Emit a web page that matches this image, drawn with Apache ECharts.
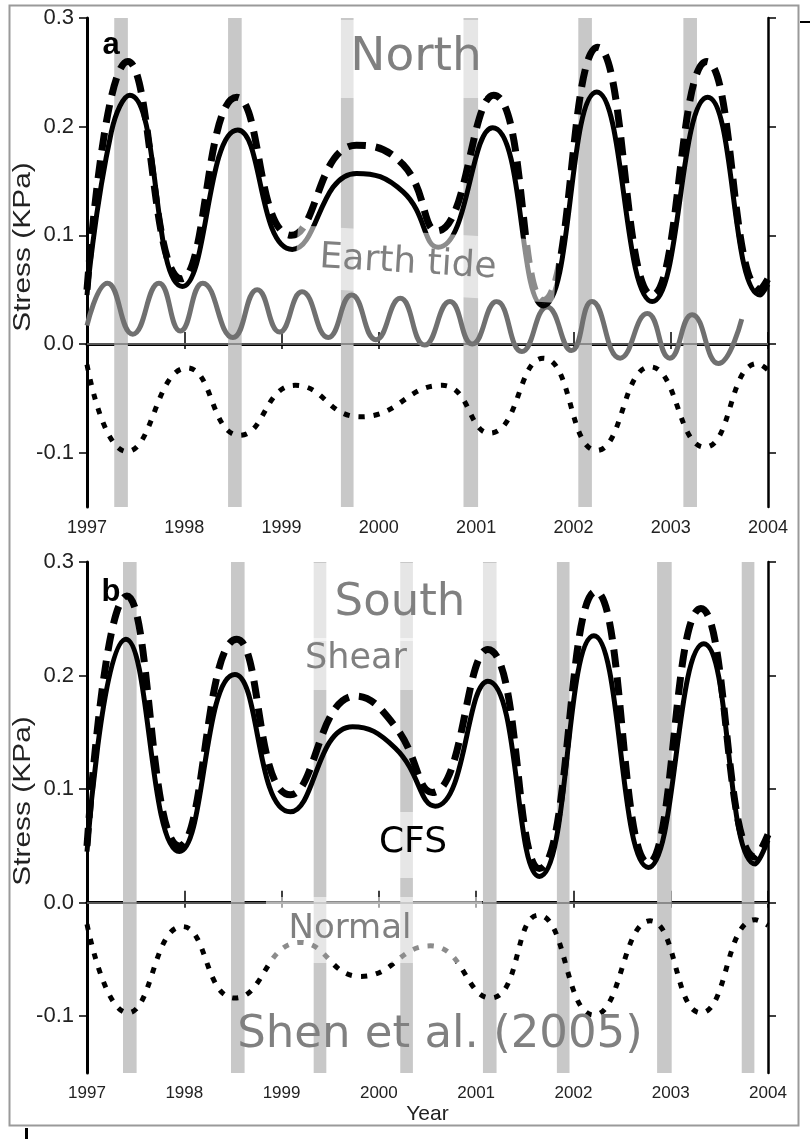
<!DOCTYPE html>
<html><head><meta charset="utf-8">
<script src="https://cdn.jsdelivr.net/npm/echarts@6/dist/echarts.min.js"></script>
<style>html,body{margin:0;padding:0;background:#fff}#c{width:810px;height:1139px}</style>
</head><body><div id="c"></div>
<script>
// ---------- tick labels ----------
const xTickLabels = ['1997','1998','1999','2000','2001','2002','2003','2004'];
const yTickValues = [-0.1, 0, 0.1, 0.2, 0.3];

// ---------- panel a (North) ----------
const aCfs = [[1997.00,0.045],[1997.25,0.195],[1997.44,0.229],[1997.98,0.053],[1998.55,0.197],[1999.11,0.087],
  [1999.77,0.157],[2000.25,0.140],[2000.61,0.089],[2001.17,0.199],[2001.69,0.035],
  [2002.24,0.232],[2002.81,0.039],[2003.38,0.227],[2003.92,0.045],[2004.00,0.055]];
const aShear = [[1997.00,0.050],[1997.42,0.260],[1997.97,0.060],[1998.54,0.227],[1999.10,0.100],
  [1999.77,0.183],[2000.25,0.165],[2000.60,0.104],[2001.18,0.229],[2001.69,0.040],
  [2002.25,0.273],[2002.81,0.045],[2003.37,0.260],[2003.92,0.050],[2004.00,0.060]];
const aNormal = [[1997.00,-0.019],[1997.41,-0.099],[1998.03,-0.022],[1998.57,-0.084],[1999.14,-0.038],
  [1999.81,-0.067],[2000.65,-0.038],[2001.14,-0.082],[2001.69,-0.013],[2002.24,-0.098],[2002.79,-0.021],
  [2003.35,-0.095],[2003.89,-0.018],[2004.00,-0.024]];
const aTide = [[1997.00,0.017],[1997.21,0.056],[1997.47,0.009],[1997.74,0.056],[1997.96,0.012],[1998.19,0.056],
  [1998.50,0.006],[1998.75,0.050],[1998.98,0.011],[1999.21,0.048],[1999.48,0.006],[1999.72,0.045],
  [1999.97,0.004],[2000.22,0.042],[2000.47,-0.001],[2000.73,0.039],[2000.96,0.000],[2001.21,0.039],
  [2001.47,-0.007],[2001.73,0.034],[2001.98,-0.006],[2002.19,0.039],[2002.48,-0.013],[2002.76,0.028],
  [2002.99,-0.013],[2003.22,0.027],[2003.49,-0.018],[2003.73,0.023]];
const aBands = [[1997.28,1997.42],[1998.45,1998.59],[1999.61,1999.74],[2000.87,2001.02],[2002.05,2002.19],[2003.13,2003.27]];

// ---------- panel b (South) ----------
const bCfs = [[1997.00,0.045],[1997.40,0.232],[1997.95,0.045],[1998.52,0.201],[1999.09,0.080],[1999.73,0.155],
  [2000.17,0.136],[2000.58,0.085],[2001.12,0.195],[2001.65,0.023],[2002.21,0.235],
  [2002.77,0.031],[2003.34,0.228],[2003.87,0.034],[2004.00,0.055]];
const bShear = [[1997.00,0.050],[1997.41,0.270],[1997.95,0.050],[1998.54,0.232],[1999.09,0.095],[1999.76,0.182],
  [2000.17,0.155],[2000.55,0.097],[2001.12,0.223],[2001.65,0.030],[2002.23,0.274],
  [2002.77,0.035],[2003.31,0.259],[2003.87,0.040],[2004.00,0.060]];
const bNormal = [[1997.00,-0.019],[1997.42,-0.097],[1997.98,-0.021],[1998.52,-0.084],[1999.19,-0.035],
  [1999.81,-0.065],[2000.53,-0.038],[2001.15,-0.084],[2001.64,-0.011],[2002.21,-0.099],[2002.79,-0.016],
  [2003.31,-0.097],[2003.87,-0.015],[2004.00,-0.020]];
const bBands = [[1997.37,1997.51],[1998.48,1998.62],[1999.33,1999.46],[2000.22,2000.35],[2001.07,2001.21],
  [2001.83,2001.96],[2002.86,2003.01],[2003.73,2003.86]];

const chart = echarts.init(document.getElementById('c'), null, {renderer:'canvas'});
const FONT = '"Liberation Sans", Arial, sans-serif';
const NOTE = '"DejaVu Sans", sans-serif';
const GRAY = '#808080';

function xAxes(gi, labelSize, withName) {
  return [
    { gridIndex: gi, type:'value', min:1997, max:2004, interval:1, position:'bottom',
      axisLine:{lineStyle:{color:'#000', width:3}},
      axisTick:{length:5, lineStyle:{color:'#000', width:1.5}},
      axisLabel:{fontSize:labelSize, color:'#222', fontFamily:FONT, margin:12,
        formatter: v => xTickLabels[Math.round(v) - 1997]},
      splitLine:{show:false},
      name: withName ? 'Year' : '', nameLocation:'middle', nameGap:31,
      nameTextStyle:{fontSize:21, color:'#222', fontFamily:FONT} },
    { gridIndex: gi, type:'value', min:1997, max:2004, interval:1, position:'top',
      axisLine:{lineStyle:{color:'#000', width:2.5}},
      axisTick:{length:12, lineStyle:{color:'#000', width:1.5}},
      axisLabel:{show:false}, splitLine:{show:false} }
  ];
}
function yAxes(gi) {
  return [
    { gridIndex: gi, type:'value', min:-0.15, max:0.3, position:'left',
      axisLine:{lineStyle:{color:'#000', width:3}},
      axisTick:{length:8, customValues: yTickValues, lineStyle:{color:'#000', width:1.5}},
      axisLabel:{customValues: yTickValues, fontSize:22, color:'#222', fontFamily:FONT, margin:13,
        formatter: v => v.toFixed(1)},
      splitLine:{show:false} },
    { gridIndex: gi, type:'value', min:-0.15, max:0.3, position:'right',
      axisLine:{lineStyle:{color:'#000', width:2.5}},
      axisTick:{length:8, customValues: yTickValues, lineStyle:{color:'#000', width:1.5}},
      axisLabel:{show:false}, splitLine:{show:false} }
  ];
}
function panelSeries(xi, yi, cfs, shear, normal, tide, bands) {
  const s = [];
  s.push({ type:'line', xAxisIndex:xi, yAxisIndex:yi, data:[], z:1, silent:true,
    markArea:{ silent:true, itemStyle:{color:'#c8c8c8'},
      data: bands.map(b => [{xAxis:b[0]}, {xAxis:b[1]}]) } });
  s.push({ type:'line', xAxisIndex:xi, yAxisIndex:yi, data:normal, smooth:0.5, symbol:'none', z:3,
    lineStyle:{color:'#000', width:5, type:[6,9]},
    markLine:{ silent:true, symbol:'none', label:{show:false},
      lineStyle:{color:'#777', width:1.5, type:'solid'}, data:[{yAxis:0}] } });
  if (tide) s.push({ type:'line', xAxisIndex:xi, yAxisIndex:yi, data:tide, smooth:0.5, symbol:'none', z:3,
    lineStyle:{color:'#707070', width:5} });
  s.push({ type:'line', xAxisIndex:xi, yAxisIndex:yi, data:shear, smooth:0.5, symbol:'none', z:4,
    lineStyle:{color:'#000', width:7, type:[18,10]} });
  s.push({ type:'line', xAxisIndex:xi, yAxisIndex:yi, data:cfs, smooth:0.5, symbol:'none', z:5,
    lineStyle:{color:'#000', width:5} });
  return s;
}

function veil(x, y, w, h, rot) {
  return { type:'rect', x:x, y:y, rotation: rot || 0, z:100, silent:true,
    shape:{x:-w/2, y:-h/2, width:w, height:h}, style:{fill:'rgba(255,255,255,0.55)'} };
}
function note(text, x, y, size, color, rot, bold) {
  return { type:'text', x:x, y:y, rotation: rot || 0, z:110, silent:true,
    style:{ text:text, font:(bold ? 'bold ' : '') + size + 'px ' + (bold ? FONT : NOTE), fill:color,
      align:'center', verticalAlign:'middle', textAlign:'center', textVerticalAlign:'middle' } };
}
function ytitle(y) {
  return { type:'text', x:24, y:y, rotation:Math.PI/2, scaleX:1.3, z:110, silent:true,
    style:{ text:'Stress (KPa)', font:'23px ' + FONT, fill:'#222', align:'center', verticalAlign:'middle',
      textAlign:'center', textVerticalAlign:'middle' } };
}

chart.setOption({
  animation:false,
  backgroundColor:'#fff',
  grid:[ {left:87, top:18, width:681, height:489}, {left:87, top:562, width:681, height:511} ],
  xAxis: [...xAxes(0, 18, false), ...xAxes(1, 17, true)],
  yAxis: [...yAxes(0), ...yAxes(1)],
  series: [...panelSeries(0, 0, aCfs, aShear, aNormal, aTide, aBands),
           ...panelSeries(2, 2, bCfs, bShear, bNormal, null, bBands)],
  graphic: { elements: [
    { type:'rect', z:90, silent:true, shape:{x:9.5, y:5.5, width:789, height:1120},
      style:{fill:'none', stroke:'#9a9a9a', lineWidth:2} },
    { type:'line', z:90, silent:true, shape:{x1:800, y1:22, x2:810, y2:22}, style:{stroke:'#000', lineWidth:2} },
    { type:'line', z:90, silent:true, shape:{x1:26.5, y1:1128, x2:26.5, y2:1139}, style:{stroke:'#000', lineWidth:3} },
    // translucent text boxes
    veil(410, 59, 150, 78),
    veil(426, 264, 260, 62, -0.06),
    veil(402, 602, 195, 78),
    veil(358, 664, 120, 52),
    veil(413, 845, 84, 66),
    veil(374, 930, 216, 66),
    // annotations
    note('North', 416, 58, 47, GRAY),
    note('Earth tide', 408, 263, 36, GRAY, -0.06),
    note('South', 400, 603, 45, GRAY),
    note('Shear', 356, 659, 35, GRAY),
    note('CFS', 413, 843, 36, '#000'),
    note('Normal', 350, 929, 34, GRAY),
    note('Shen et al. (2005)', 440, 1035, 45, GRAY),
    note('a', 111, 45, 31, '#000', 0, true),
    note('b', 111, 592, 31, '#000', 0, true),
    ytitle(247),
    ytitle(801)
  ]}
});
</script>
</body></html>
